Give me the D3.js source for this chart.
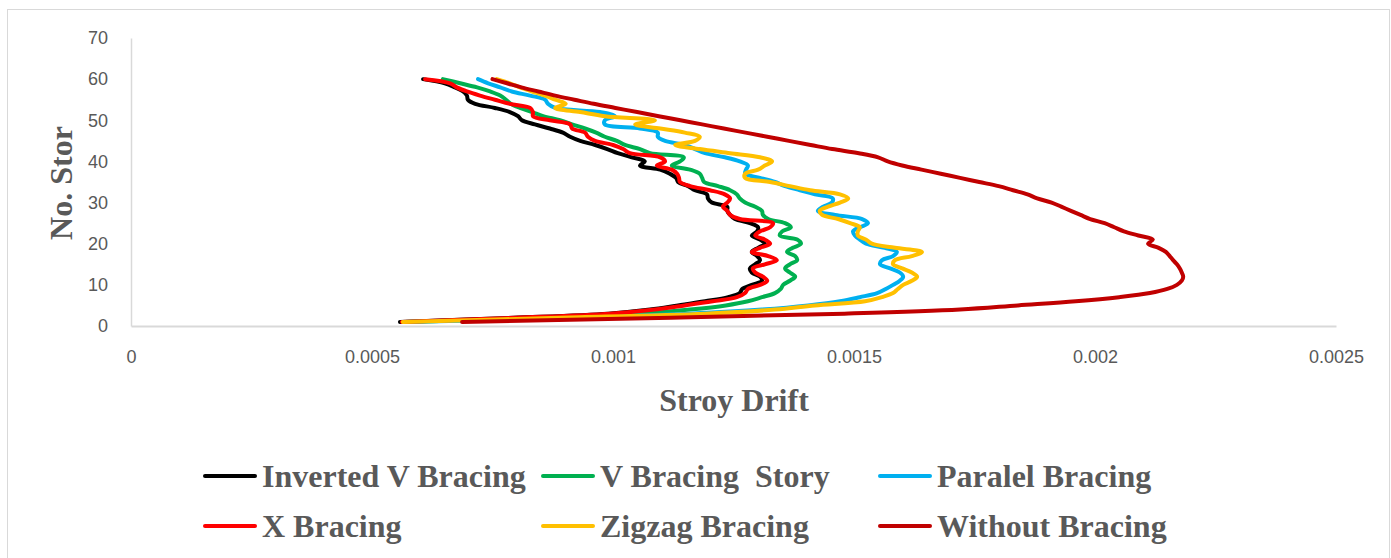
<!DOCTYPE html>
<html lang="en">
<head>
    <meta charset="UTF-8">
    <title>Story Drift</title>
    <script src="https://d3js.org/d3.v7.min.js"></script>
    <style>
        body { margin: 0; background: #fff; }
        svg { display: block; }
        .tick text { font-family: "Liberation Sans", Arial, sans-serif; font-size: 18px; fill: #595959; }
        .title { font-family: "Liberation Serif", "Times New Roman", serif; font-weight: bold; font-size: 32px; fill: #595959; }
    </style>
</head>
<body>
    <div id="chart"></div>
    <script>
        // storeys 1..60
        const stories = d3.range(1, 61);

        const xTicks = [0, 0.0005, 0.001, 0.0015, 0.002, 0.0025];
        const xTickLabels = ['0', '0.0005', '0.001', '0.0015', '0.002', '0.0025'];
        const yTicks = [0, 10, 20, 30, 40, 50, 60, 70];

        const invertedV = [
            0.000558, 0.000793, 0.000990, 0.001077, 0.001135, 0.001191, 0.001239, 0.001263, 0.001268, 0.001288,
            0.001309, 0.001305, 0.001288, 0.001284, 0.001295, 0.001305, 0.001299, 0.001288, 0.001301, 0.001315,
            0.001305, 0.001288, 0.001299, 0.001301, 0.001284, 0.001253, 0.001243, 0.001237, 0.001237, 0.001205,
            0.001197, 0.001195, 0.001170, 0.001156, 0.001135, 0.001131, 0.001118, 0.001098, 0.001056, 0.001066,
            0.001039, 0.001010, 0.000988, 0.000963, 0.000932, 0.000911, 0.000896, 0.000869, 0.000838, 0.000811,
            0.000803, 0.000786, 0.000755, 0.000714, 0.000699, 0.000697, 0.000689, 0.000672, 0.000651, 0.000606
        ];
        const vBracing = [
            0.000568, 0.000849, 0.001056, 0.001160, 0.001234, 0.001280, 0.001309, 0.001336, 0.001348, 0.001353,
            0.001367, 0.001378, 0.001367, 0.001357, 0.001367, 0.001382, 0.001378, 0.001361, 0.001373, 0.001390,
            0.001382, 0.001346, 0.001351, 0.001369, 0.001357, 0.001322, 0.001311, 0.001309, 0.001295, 0.001274,
            0.001263, 0.001257, 0.001243, 0.001218, 0.001189, 0.001185, 0.001180, 0.001160, 0.001122, 0.001139,
            0.001147, 0.001077, 0.001056, 0.001025, 0.001008, 0.000983, 0.000965, 0.000942, 0.000915, 0.000890,
            0.000855, 0.000832, 0.000807, 0.000788, 0.000778, 0.000766, 0.000745, 0.000718, 0.000683, 0.000647
        ];
        const paralel = [
            0.000568, 0.000932, 0.001160, 0.001309, 0.001405, 0.001471, 0.001512, 0.001548, 0.001566, 0.001581,
            0.001595, 0.001602, 0.001595, 0.001575, 0.001554, 0.001558, 0.001581, 0.001589, 0.001564, 0.001525,
            0.001512, 0.001502, 0.001498, 0.001512, 0.001529, 0.001517, 0.001461, 0.001425, 0.001436, 0.001454,
            0.001456, 0.001419, 0.001388, 0.001357, 0.001336, 0.001305, 0.001274, 0.001276, 0.001280, 0.001263,
            0.001232, 0.001191, 0.001170, 0.001149, 0.001108, 0.001093, 0.001093, 0.001056, 0.000983, 0.000983,
            0.001004, 0.000973, 0.000880, 0.000865, 0.000859, 0.000828, 0.000790, 0.000766, 0.000741, 0.000720
        ];
        const xBracing = [
            0.000562, 0.000797, 0.000994, 0.001087, 0.001149, 0.001207, 0.001257, 0.001274, 0.001280, 0.001305,
            0.001320, 0.001311, 0.001295, 0.001290, 0.001315, 0.001340, 0.001322, 0.001288, 0.001305, 0.001326,
            0.001315, 0.001295, 0.001305, 0.001326, 0.001332, 0.001263, 0.001243, 0.001237, 0.001228, 0.001237,
            0.001243, 0.001232, 0.001201, 0.001160, 0.001139, 0.001137, 0.001133, 0.001122, 0.001091, 0.001108,
            0.001098, 0.001035, 0.001021, 0.001000, 0.000963, 0.000948, 0.000942, 0.000915, 0.000911, 0.000869,
            0.000834, 0.000834, 0.000828, 0.000786, 0.000755, 0.000724, 0.000697, 0.000676, 0.000662, 0.000610
        ];
        const zigzag = [
            0.000564, 0.000890, 0.001191, 0.001336, 0.001419, 0.001523, 0.001558, 0.001581, 0.001591, 0.001602,
            0.001620, 0.001631, 0.001620, 0.001600, 0.001581, 0.001585, 0.001620, 0.001641, 0.001585, 0.001537,
            0.001525, 0.001508, 0.001508, 0.001512, 0.001492, 0.001467, 0.001434, 0.001429, 0.001446, 0.001471,
            0.001488, 0.001471, 0.001409, 0.001367, 0.001326, 0.001274, 0.001274, 0.001301, 0.001315, 0.001330,
            0.001305, 0.001243, 0.001180, 0.001129, 0.001170, 0.001180, 0.001149, 0.001098, 0.001046, 0.001087,
            0.000983, 0.000932, 0.000880, 0.000902, 0.000880, 0.000859, 0.000832, 0.000807, 0.000786, 0.000759
        ];
        const withoutBracing = [
            0.000687, 0.001120, 0.001480, 0.001720, 0.001840, 0.001960, 0.002050, 0.002114, 0.002150, 0.002170,
            0.002180, 0.002183, 0.002180, 0.002176, 0.002170, 0.002162, 0.002155, 0.002147, 0.002132, 0.002110,
            0.002120, 0.002090, 0.002060, 0.002040, 0.002020, 0.001990, 0.001970, 0.001950, 0.001930, 0.001910,
            0.001880, 0.001860, 0.001830, 0.001800, 0.001760, 0.001720, 0.001680, 0.001640, 0.001600, 0.001570,
            0.001550, 0.001510, 0.001455, 0.001410, 0.001365, 0.001320, 0.001275, 0.001230, 0.001185, 0.001140,
            0.001095, 0.001050, 0.001005, 0.000960, 0.000920, 0.000880, 0.000845, 0.000810, 0.000780, 0.000750
        ];

        const seriesNames = ['Inverted V Bracing', 'V Bracing  Story', 'Paralel Bracing', 'X Bracing', 'Zigzag Bracing', 'Without Bracing'];
        const seriesValues = [invertedV, vBracing, paralel, xBracing, zigzag, withoutBracing];
        const seriesColors = ['#000000', '#00B050', '#00B0F0', '#FF0000', '#FFC000', '#C00000'];

        const width = 1391, height = 558;
        const plot = { left: 131, right: 1336, top: 38, bottom: 326 };

        const svg = d3.select('#chart').append('svg')
            .attr('width', width)
            .attr('height', height);

        // chart border
        svg.append('rect')
            .attr('x', 7.5).attr('y', 9.5)
            .attr('width', 1382).attr('height', 560)
            .attr('fill', 'none')
            .attr('stroke', '#d9d9d9');

        const x = d3.scaleLinear().domain([0, 0.0025]).range([plot.left, plot.right]);
        const y = d3.scaleLinear().domain([0, 70]).range([plot.bottom, plot.top]);

        const xAxis = svg.append('g')
            .attr('transform', `translate(0,${plot.bottom})`)
            .call(d3.axisBottom(x).tickValues(xTicks).tickSize(0).tickPadding(24)
                .tickFormat((d, i) => xTickLabels[i]));
        xAxis.select('.domain').attr('stroke', '#d9d9d9').attr('stroke-width', 2);

        const yAxis = svg.append('g')
            .attr('transform', `translate(${plot.left},0)`)
            .call(d3.axisLeft(y).tickValues(yTicks).tickSize(0).tickPadding(23));
        yAxis.select('.domain').attr('stroke', '#d9d9d9').attr('stroke-width', 1.5);

        // lines
        const line = d3.line()
            .x(d => x(d[0]))
            .y(d => y(d[1]))
            .curve(d3.curveCatmullRom.alpha(0.5));

        seriesValues.forEach((vals, i) => {
            svg.append('path')
                .datum(vals.map((v, j) => [v, stories[j]]))
                .attr('fill', 'none')
                .attr('stroke', seriesColors[i])
                .attr('stroke-width', 4)
                .attr('stroke-linecap', 'round')
                .attr('stroke-linejoin', 'round')
                .attr('d', line);
        });

        // axis titles
        svg.append('text')
            .attr('class', 'title')
            .attr('text-anchor', 'middle')
            .attr('transform', 'translate(72,183) rotate(-90)')
            .text('No. Stor');

        svg.append('text')
            .attr('class', 'title')
            .attr('text-anchor', 'middle')
            .attr('x', 734).attr('y', 411)
            .text('Stroy Drift');

        // legend, 3 per row
        const legendCols = [205, 543, 880];
        const legendRows = [487, 537];
        seriesNames.forEach((name, i) => {
            const lx = legendCols[i % 3];
            const ly = legendRows[Math.floor(i / 3)];
            const g = svg.append('g');
            g.append('line')
                .attr('x1', lx).attr('x2', lx + 50)
                .attr('y1', ly - 11).attr('y2', ly - 11)
                .attr('stroke', seriesColors[i])
                .attr('stroke-width', 4)
                .attr('stroke-linecap', 'round');
            g.append('text')
                .attr('class', 'title')
                .attr('x', lx + 57).attr('y', ly)
                .attr('xml:space', 'preserve')
                .style('white-space', 'pre')
                .text(name);
        });
    </script>
</body>
</html>
